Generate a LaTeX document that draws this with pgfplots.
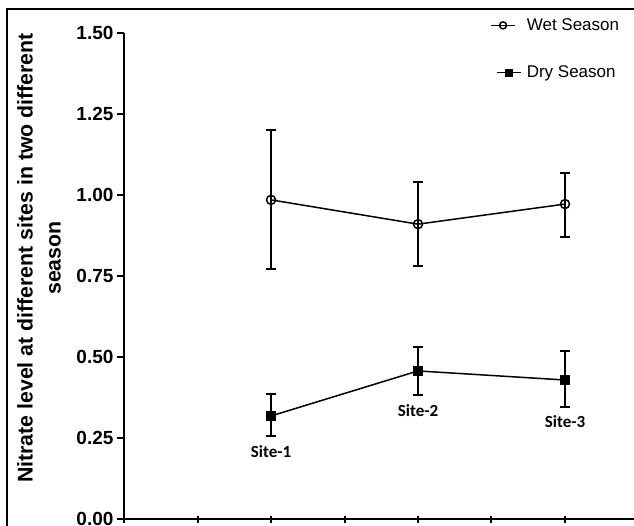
\documentclass[border=0pt]{standalone}
\usepackage{fontspec}
\setmainfont{Liberation Sans}
\newfontfamily\sitefont{Carlito}
\usepackage{pgfplots}
\pgfplotsset{compat=1.18}
\begin{document}
\begin{tikzpicture}[x=1pt,y=1pt]
\useasboundingbox (0,0) rectangle (634,525);
\clip (0,0) rectangle (634,525);
\draw[line width=2.5pt] (7,-20) -- (7,516) -- (660,516);
\begin{axis}[
  at={(124pt,6pt)}, anchor=south west,
  scale only axis, width=514.5pt, height=486pt,
  xmin=0, xmax=7, ymin=0, ymax=1.5,
  axis lines=left,
  axis line style={-, line width=2pt},
  xtick={0,1,2,3,4,5,6,7}, xticklabels={},
  ytick={0,0.25,0.5,0.75,1,1.25,1.5},
  tick style={line width=2pt, black},
  major tick length=7pt,
  tick align=outside,
  xtick align=center,
  yticklabel style={/pgf/number format/fixed, /pgf/number format/precision=2, /pgf/number format/fixed zerofill},
  /pgf/number format/assume math mode=true,
  tick label style={font=\bfseries\fontsize{19}{19}\selectfont},
  legend style={draw=none, fill=none, font=\fontsize{17}{17}\selectfont,
    at={(axis description cs:0.7116,1.034)}, anchor=north west,
    row sep=30pt, column sep=3pt, inner sep=0pt, cells={anchor=west}},
  clip=false,
]
\addplot[black, line width=1.5pt, mark=o, mark size=4.5pt, mark options={fill=white, line width=1.5pt},
  legend image code/.code={\draw[mark repeat=2,mark phase=2,mark size=3.5pt] plot coordinates {(0pt,0pt) (12pt,0pt) (24pt,0pt)};},
  error bars/.cd, y dir=both, y explicit, error mark options={rotate=90, mark size=5pt, line width=2pt},
  error bar style={line width=2pt}]
  coordinates {
  (2,0.985) += (0,0.215) -= (0,0.213)
  (4,0.910) += (0,0.130) -= (0,0.130)
  (6,0.972) += (0,0.096) -= (0,0.102)
  };
\addlegendentry{Wet Season}
\addplot[black, line width=1.5pt, mark=square*, mark size=4.5pt, mark options={line width=0.5pt},
  legend image code/.code={\draw[mark repeat=2,mark phase=2,mark size=3.5pt] plot coordinates {(6pt,0pt) (18pt,0pt) (30pt,0pt)};},
  error bars/.cd, y dir=both, y explicit, error mark options={rotate=90, mark size=5pt, line width=2pt},
  error bar style={line width=2pt}]
  coordinates {
  (2,0.318) += (0,0.068) -= (0,0.062)
  (4,0.457) += (0,0.074) -= (0,0.074)
  (6,0.429) += (0,0.090) -= (0,0.083)
  };
\addlegendentry{Dry Season}
\node[font=\sitefont\bfseries\fontsize{17}{17}\selectfont] at (axis cs:2,0.207) {Site-1};
\node[font=\sitefont\bfseries\fontsize{17}{17}\selectfont] at (axis cs:4,0.336) {Site-2};
\node[font=\sitefont\bfseries\fontsize{17}{17}\selectfont] at (axis cs:6,0.300) {Site-3};
\end{axis}
\node[rotate=90, align=center, font=\bfseries\fontsize{21.3}{28}\selectfont] at (39,267) {Nitrate level at different sites in two different\\season};
\end{tikzpicture}
\end{document}
